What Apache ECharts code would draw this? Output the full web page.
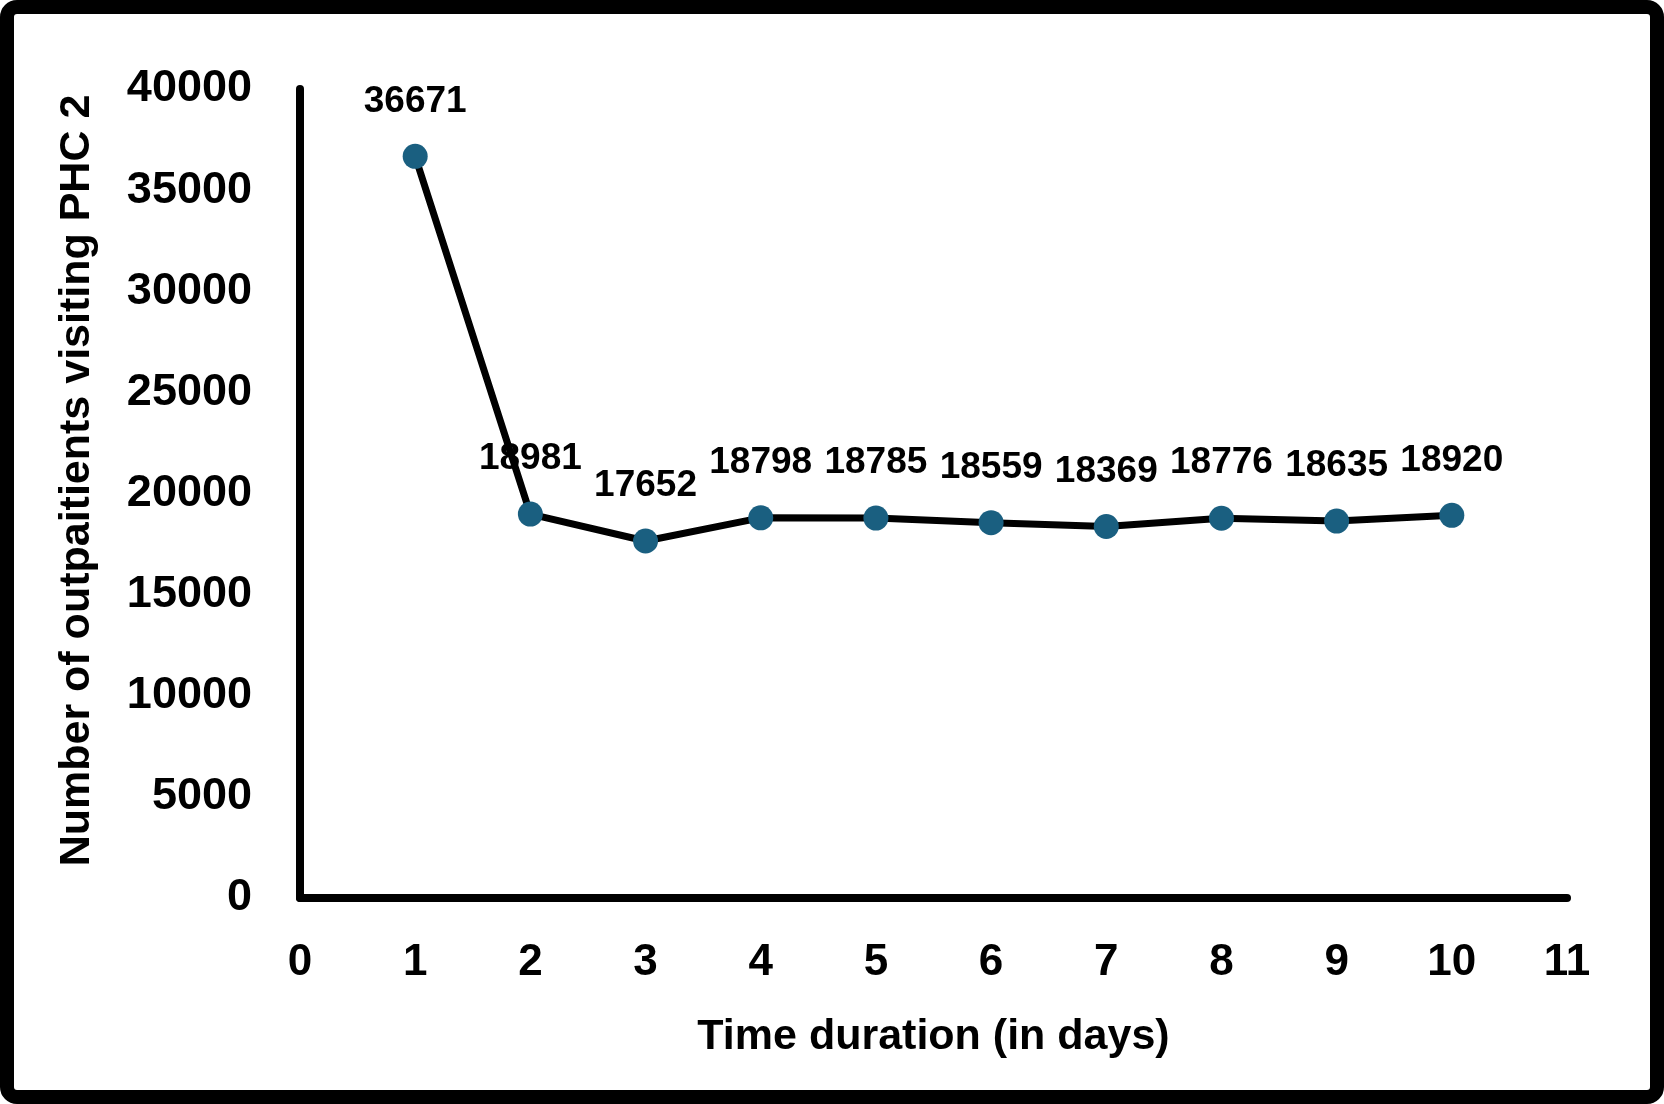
<!DOCTYPE html>
<html>
<head>
<meta charset="utf-8">
<script src="https://cdn.jsdelivr.net/npm/echarts@6/dist/echarts.min.js"></script>
<style>
html,body{margin:0;padding:0;background:#fff;}
#chart{width:1664px;height:1104px;}
</style>
</head>
<body>
<div id="chart"></div>
<script>
const days = [1, 2, 3, 4, 5, 6, 7, 8, 9, 10];
const outpatients = [36671, 18981, 17652, 18798, 18785, 18559, 18369, 18776, 18635, 18920];
const xTitle = 'Time duration (in days)';
const yTitle = 'Number of outpaitients visiting PHC 2';

const FONT = 'Arial, "Liberation Sans", sans-serif';
const chart = echarts.init(document.getElementById('chart'));
chart.setOption({
  backgroundColor: '#fff',
  animation: false,
  graphic: [{
    type: 'rect',
    shape: { x: 7, y: 7, width: 1650, height: 1090, r: 10 },
    style: { fill: 'none', stroke: '#000', lineWidth: 14 },
    silent: true, z: 100
  }],
  grid: { left: 300, right: 97, top: 89, bottom: 206, containLabel: false, outerBoundsMode: 'none' },
  xAxis: {
    type: 'value', min: 0, max: 11, interval: 1,
    name: xTitle, nameLocation: 'middle', nameGap: 139,
    nameTextStyle: { fontFamily: FONT, fontWeight: 'bold', fontSize: 43, color: '#000', verticalAlign: 'middle' },
    axisLine: { show: true, onZero: false, lineStyle: { color: '#000', width: 8 } },
    axisTick: { show: false },
    splitLine: { show: false },
    axisLabel: { fontFamily: FONT, fontWeight: 'bold', fontSize: 44, lineHeight: 44, color: '#000', margin: 43 }
  },
  yAxis: {
    type: 'value', min: 0, max: 40000, interval: 5000,
    name: yTitle, nameLocation: 'middle', nameGap: 223, nameRotate: 90,
    nameTextStyle: { fontFamily: FONT, fontWeight: 'bold', fontSize: 43, color: '#000', verticalAlign: 'middle', padding: [0, 0, 0, 26] },
    axisLine: { show: true, onZero: false, lineStyle: { color: '#000', width: 8 } },
    axisTick: { show: false },
    splitLine: { show: false },
    axisLabel: { fontFamily: FONT, fontWeight: 'bold', fontSize: 45, color: '#000', margin: 48, formatter: v => String(v) }
  },
  series: [{
    type: 'line',
    data: days.map((d, i) => [d, outpatients[i]]),
    symbol: 'circle', symbolSize: 25,
    lineStyle: { color: '#000', width: 7 },
    itemStyle: { color: '#1a5f80' },
    label: {
      show: true, position: 'top', distance: 24,
      fontFamily: FONT, fontWeight: 'bold', fontSize: 37, lineHeight: 37, color: '#000',
      formatter: p => String(p.value[1])
    }
  }]
});
</script>
</body>
</html>
